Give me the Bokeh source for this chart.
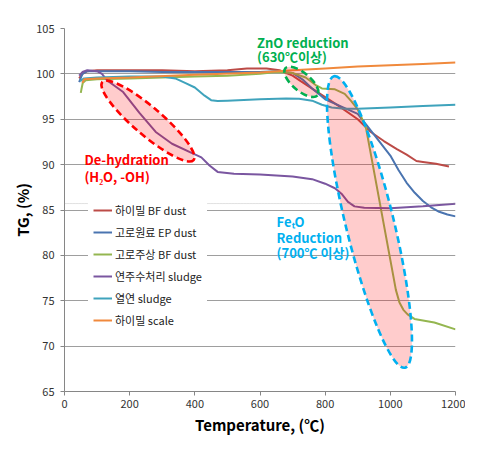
import math
from bokeh.plotting import figure
from bokeh.models import Range1d, Legend, LegendItem, BoxAnnotation, FixedTicker, ColumnDataSource
from bokeh.core.properties import value
from bokeh.embed import file_html
from bokeh.resources import INLINE

FONT = "Noto Sans CJK KR"

# ---------------- data ----------------
series_names = ["하이밀 BF dust", "고로원료 EP dust", "고로주상 BF dust",
                "연주수처리 sludge", "열연 sludge", "하이밀 scale"]
series_colors = ["#BC4B47", "#4A74B0", "#94B650", "#7A56A0", "#3FA3BC", "#F0893C"]

red_x = [45, 55, 70, 100, 200, 300, 400, 500, 560, 620, 660, 700, 725, 780, 840, 900, 940, 980, 1020, 1050, 1080, 1100, 1140, 1180]
red_y = [99.5, 100.0, 100.3, 100.4, 100.4, 100.4, 100.3, 100.4, 100.6, 100.6, 100.4, 99.8, 99.2, 97.9, 96.5, 95.0, 93.6, 92.6, 91.7, 91.1, 90.4, 90.3, 90.1, 89.8]

blue_x = [45, 55, 70, 100, 200, 300, 400, 500, 600, 650, 700, 730, 760, 800, 850, 900, 950, 1000, 1025, 1050, 1075, 1100, 1125, 1150, 1175, 1200]
blue_y = [99.1, 100.0, 100.3, 100.3, 100.3, 100.2, 100.2, 100.2, 100.2, 100.3, 100.1, 99.4, 98.4, 97.2, 96.4, 95.6, 93.3, 91.0, 89.4, 88.0, 86.9, 86.0, 85.3, 84.8, 84.5, 84.3]

green_x = [50, 52, 56, 65, 100, 200, 300, 400, 500, 600, 650, 700, 740, 770, 790, 830, 860, 880, 900, 925, 1017, 1028, 1040, 1053, 1074, 1135, 1200]
green_y = [97.9, 98.3, 99.0, 99.3, 99.4, 99.5, 99.6, 99.7, 99.8, 100.0, 100.2, 100.1, 99.6, 98.8, 98.4, 98.3, 97.8, 97.0, 96.1, 94.1, 76.2, 74.8, 74.0, 73.5, 73.0, 72.6, 71.85]

purple_x = [45, 55, 70, 100, 115, 130, 180, 230, 280, 330, 390, 420, 445, 470, 520, 600, 700, 760, 800, 830, 850, 870, 890, 920, 1000, 1100, 1200]
purple_y = [99.8, 100.2, 100.4, 100.3, 100.0, 99.3, 98.0, 95.7, 93.6, 92.3, 91.3, 90.8, 89.9, 89.2, 89.0, 88.9, 88.7, 88.4, 87.9, 87.4, 86.8, 85.9, 85.4, 85.25, 85.2, 85.4, 85.7]

teal_x = [48, 60, 100, 200, 300, 340, 370, 400, 430, 450, 470, 500, 600, 680, 720, 760, 790, 820, 860, 900, 1000, 1100, 1200]
teal_y = [99.2, 99.5, 99.6, 99.7, 99.7, 99.5, 99.0, 98.5, 97.6, 97.1, 97.0, 97.05, 97.2, 97.3, 97.25, 97.05, 96.6, 96.3, 96.15, 96.15, 96.3, 96.45, 96.6]

orange_x = [55, 60, 100, 200, 400, 600, 700, 800, 900, 1000, 1100, 1200]
orange_y = [99.0, 99.4, 99.5, 99.6, 99.9, 100.15, 100.4, 100.6, 100.8, 100.95, 101.1, 101.25]

x_ticks = [0, 200, 400, 600, 800, 1000, 1200]
y_ticks = [65, 70, 75, 80, 85, 90, 95, 100, 105]

# annotation ellipses (centre in data, size in screen px, angle in degrees)
ell_x = [256, 727, 936]
ell_y = [94.8, 99.12, 83.68]
ell_w = [120, 42, 300]
ell_h = [28, 18, 48]
ell_a = [-40.5, -40.0, 103.7]
ell_line = ["#FF0000", "#00B050", "#00B0F0"]

# annotation texts
ann_text = ["ZnO reduction", "(630℃이상)", "De-hydration", "(H₂O, -OH)",
            "FeₜO", "Reduction", "(700℃ 이상)"]
ann_x = [591, 591, 61, 61, 651, 651, 651]
ann_y = [103.46, 101.92, 90.55, 88.74, 83.68, 81.92, 80.27]
ann_color = ["#00B050", "#00B050", "#FF0000", "#FF0000", "#00B0F0", "#00B0F0", "#00B0F0"]

page_line_y = 85.71

# ---------------- figure ----------------
p = figure(width=465, height=437, output_backend="svg", toolbar_location=None,
           x_range=Range1d(0, 1200), y_range=Range1d(65, 105),
           min_border_left=64, min_border_right=10, min_border_top=28, min_border_bottom=45)
p.background_fill_color = "white"
p.border_fill_color = "white"
p.outline_line_color = None

p.xgrid.visible = False
p.ygrid.grid_line_color = "#9E9E9E"
p.ygrid.grid_line_width = 1
p.ygrid.ticker = FixedTicker(ticks=y_ticks)

for ax in (p.xaxis[0], p.yaxis[0]):
    ax.axis_line_color = "#868686"
    ax.major_tick_line_color = "#868686"
    ax.major_tick_out = 4
    ax.major_tick_in = 0
    ax.minor_tick_line_color = None
    ax.major_label_text_font = FONT
    ax.major_label_text_font_size = "11px"
    ax.major_label_text_color = "#333333"
    ax.axis_label_text_font = FONT
    ax.axis_label_text_font_style = "bold"
    ax.axis_label_text_color = "#000000"

p.xaxis.ticker = FixedTicker(ticks=x_ticks)
p.yaxis.ticker = FixedTicker(ticks=y_ticks)
p.xaxis.major_label_standoff = 4
p.yaxis.major_label_standoff = 6
p.xaxis.axis_label = "Temperature, (℃)"
p.yaxis.axis_label = "TG, (%)"
p.xaxis.axis_label_text_font_size = "15px"
p.yaxis.axis_label_text_font_size = "15px"
p.xaxis.axis_label_standoff = 3
p.yaxis.axis_label_standoff = 0

all_x = [red_x, blue_x, green_x, purple_x, teal_x, orange_x]
all_y = [red_y, blue_y, green_y, purple_y, teal_y, orange_y]
items = []
for name, col, xs, ys in zip(series_names, series_colors, all_x, all_y):
    r = p.line(xs, ys, line_color=col, line_width=2)
    items.append(LegendItem(label=name, renderers=[r]))

# ellipses
esrc = ColumnDataSource(dict(x=ell_x, y=ell_y, w=ell_w, h=ell_h,
                             a=[math.radians(a) for a in ell_a], lc=ell_line))
p.ellipse(x="x", y="y", width="w", height="h", angle="a", source=esrc,
          width_units="screen", height_units="screen",
          fill_color="#FF0000", fill_alpha=0.2,
          line_color="lc", line_width=2.6, line_dash="7 4")

tsrc = ColumnDataSource(dict(x=ann_x, y=ann_y, t=ann_text, c=ann_color))
p.text(x="x", y="y", text="t", source=tsrc, text_color="c",
       text_font=value(FONT), text_font_style="bold", text_font_size="13px",
       text_baseline="alphabetic", text_align="left")

legend = Legend(items=items, location=(24, 58), orientation="vertical",
                label_text_font=FONT, label_text_font_size="11px",
                label_text_color="#222222", label_standoff=3,
                glyph_width=19, glyph_height=16, label_height=16,
                spacing=6, padding=5, margin=0,
                background_fill_color="white", background_fill_alpha=1.0,
                border_line_alpha=0)
p.add_layout(legend, "center")

# thin dashed page line running across the whole picture
p.add_layout(BoxAnnotation(left=-64, right=401, left_units="screen", right_units="screen",
                           top=page_line_y, bottom=page_line_y,
                           fill_alpha=0, line_color="#9A9A9A", line_width=1,
                           line_dash="3 3"))

open("out.html", "w").write(file_html(p, INLINE))
